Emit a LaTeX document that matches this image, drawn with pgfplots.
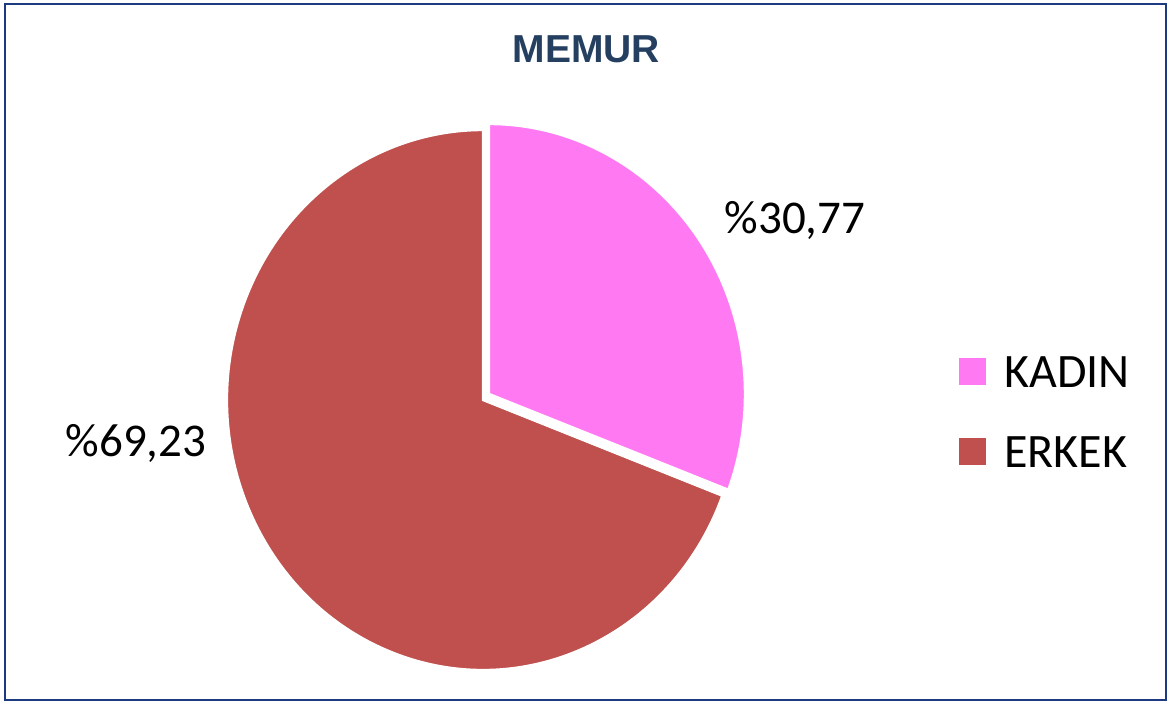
\documentclass[border=0pt]{standalone}
\usepackage{pgfplots}
\pgfplotsset{compat=1.18}
\usepackage{pgfplotstable}
\usepackage{fontspec}
\setmainfont{Carlito}
\newfontfamily\titlefont{Liberation Sans}
\definecolor{kadin}{HTML}{FF7AF2}
\definecolor{erkek}{HTML}{C0504D}
\definecolor{titleblue}{HTML}{243F60}
\definecolor{frame}{HTML}{1C3A80}

\pgfplotstableread{
label value
KADIN 30.77
ERKEK 69.23
}\piedata

\pgfplotstablegetelem{0}{value}\of\piedata
\let\kadinval\pgfplotsretval
\pgfplotstablegetelem{1}{value}\of\piedata
\let\erkekval\pgfplotsretval

% geometry in pixel units (1 unit = 0.5pt)
\def\rx{256}
\def\ry{270}
\pgfmathsetmacro{\aS}{90}
\pgfmathsetmacro{\aM}{90-\kadinval*3.6}
\pgfmathsetmacro{\aE}{\aM-\erkekval*3.6}
% ERKEK center
\def\ecx{483}\def\ecy{304}
% KADIN center (exploded)
\def\kcx{489}\def\kcy{310}
\pgfmathsetmacro{\kx}{\kcx+\rx*cos(\aS)}
\pgfmathsetmacro{\ky}{\kcy+\ry*sin(\aS)}
\pgfmathsetmacro{\ex}{\ecx+\rx*cos(\aM)}
\pgfmathsetmacro{\ey}{\ecy+\ry*sin(\aM)}

\begin{document}
\begin{tikzpicture}
\begin{axis}[
  scale only axis,
  width=586.5pt, height=352pt,
  xmin=0, xmax=1173, ymin=0, ymax=704,
  hide axis, clip=false,
]
% slices
\fill[erkek, draw=white, line width=1.2pt]
  (axis cs:\ecx,\ecy) -- (axis cs:\ex,\ey)
  arc[start angle=\aM, end angle=\aE, x radius=\rx, y radius=\ry] -- cycle;
\fill[kadin, draw=white, line width=1.2pt]
  (axis cs:\kcx,\kcy) -- (axis cs:\kx,\ky)
  arc[start angle=\aS, end angle=\aM, x radius=\rx, y radius=\ry] -- cycle;
% data labels
\node[anchor=base, inner sep=0, font=\fontsize{23.5pt}{28pt}\selectfont] at (axis cs:795,470) {\%30,77};
\node[anchor=base, inner sep=0, font=\fontsize{23.5pt}{28pt}\selectfont] at (axis cs:136,247) {\%69,23};
% title
\node[anchor=base, inner sep=0, text=titleblue, font=\titlefont\bfseries\fontsize{19.5pt}{24pt}\selectfont] at (axis cs:586.5,641) {MEMUR};
% legend
\fill[kadin] (axis cs:959,346) rectangle (axis cs:986,319);
\fill[erkek] (axis cs:959,266) rectangle (axis cs:986,239);
\node[anchor=base west, inner sep=0, font=\fontsize{24pt}{29pt}\selectfont] at (axis cs:1004,316) {KADIN};
\node[anchor=base west, inner sep=0, font=\fontsize{24pt}{29pt}\selectfont] at (axis cs:1004,236) {ERKEK};
% frame
\draw[frame, line width=1.4pt] (axis cs:5,700) rectangle (axis cs:1166,4);
\end{axis}
\pgfresetboundingbox
\path (0,0) rectangle (586.5pt,352pt);
\end{tikzpicture}
\end{document}
